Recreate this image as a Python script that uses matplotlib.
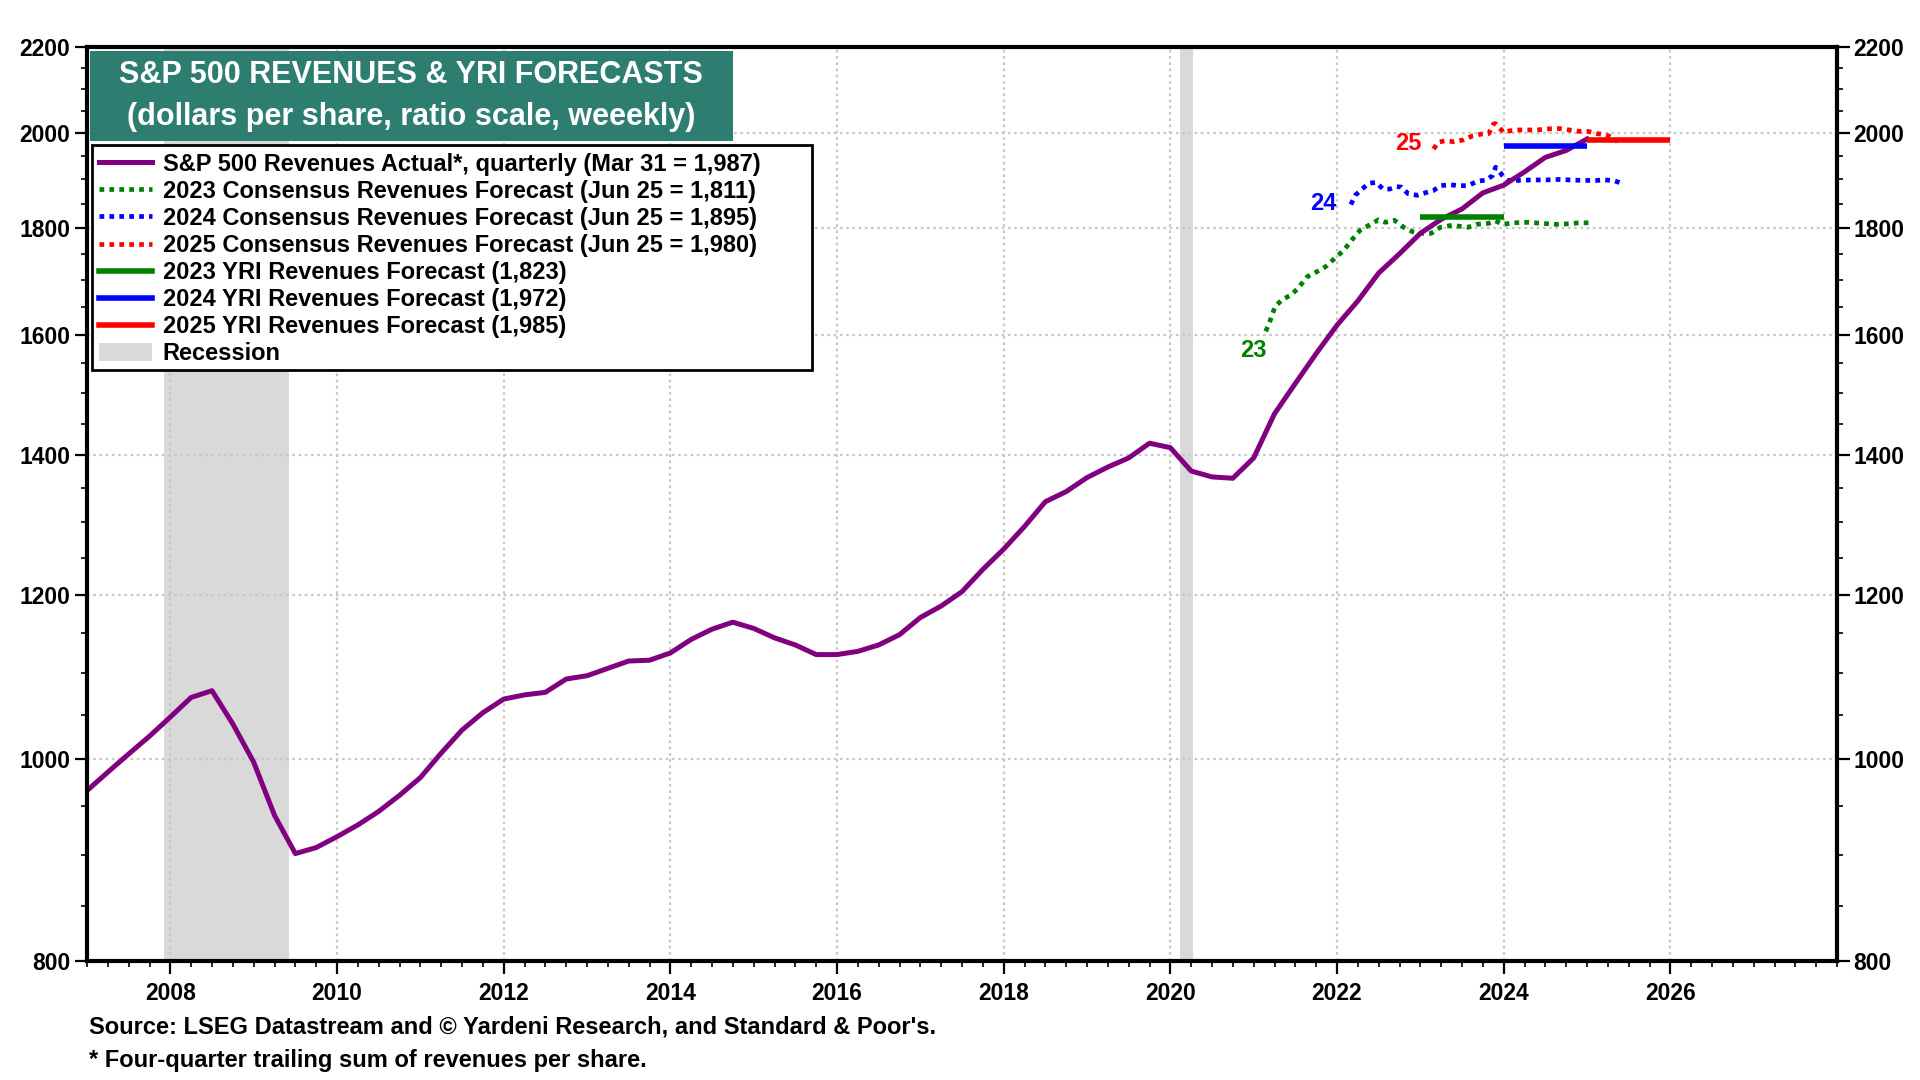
import numpy as np
import matplotlib
matplotlib.use("Agg")
import matplotlib.pyplot as plt
from matplotlib.patches import Rectangle, Patch
from matplotlib.lines import Line2D
from matplotlib.ticker import FixedLocator, MultipleLocator, NullFormatter

plt.rcParams['font.family'] = ['Liberation Sans', 'DejaVu Sans']
plt.rcParams['font.weight'] = 'bold'

# S&P 500 revenues per share, quarterly (four-quarter trailing sum)
actual_x = np.arange(2007.0, 2025.01, 0.25)
actual = [966, 986, 1006, 1026, 1048, 1071, 1079, 1040, 997, 940, 901, 907,
          918, 930, 944, 961, 980, 1007, 1033, 1053, 1069, 1074, 1077, 1093,
          1097, 1106, 1115, 1116, 1125, 1142, 1155, 1164, 1156, 1144, 1135, 1123,
          1123, 1127, 1135, 1148, 1170, 1185, 1204, 1234, 1262,
          1294, 1330, 1345, 1366, 1382, 1396, 1419, 1412, 1376, 1367, 1365, 1396,
          1466, 1516, 1567, 1617, 1661, 1713, 1750, 1790, 1818, 1839, 1872, 1888,
          1916, 1947, 1962, 1987]

# consensus forecasts (weekly)
c23_x = [2021.145, 2021.20, 2021.255, 2021.338, 2021.448, 2021.531, 2021.641,
         2021.752, 2021.862, 2021.972, 2022.083, 2022.193, 2022.276, 2022.414,
         2022.497, 2022.579, 2022.69, 2022.80, 2022.91, 2023.02, 2023.13,
         2023.24, 2023.38, 2023.57, 2023.68, 2023.82, 2023.90, 2023.99,
         2024.12, 2024.29, 2024.455, 2024.62, 2024.79, 2024.90, 2025.06]
c23 = [1606, 1626, 1650, 1663, 1672, 1684, 1706, 1715, 1725, 1741, 1757, 1780,
       1796, 1809, 1817, 1812, 1816, 1802, 1793, 1790, 1790, 1802, 1806, 1802,
       1808, 1810, 1815, 1808, 1811, 1812, 1810, 1808, 1809, 1811, 1811]

c24_x = [2022.166, 2022.22, 2022.30, 2022.386, 2022.469, 2022.552, 2022.634,
         2022.717, 2022.772, 2022.855, 2022.966, 2023.076, 2023.159, 2023.241,
         2023.352, 2023.462, 2023.572, 2023.683, 2023.793, 2023.865, 2023.903,
         2023.931, 2023.986, 2024.041, 2024.179, 2024.345, 2024.51, 2024.648,
         2024.786, 2024.952, 2025.117, 2025.2, 2025.31, 2025.42]
c24 = [1848, 1867, 1880, 1892, 1894, 1880, 1880, 1885, 1884, 1870, 1867, 1873,
       1877, 1887, 1889, 1887, 1887, 1896, 1899, 1908, 1926, 1922, 1908, 1898,
       1898, 1899, 1899, 1900, 1899, 1898, 1898, 1899, 1898, 1892]

c25_x = [2023.159, 2023.214, 2023.297, 2023.407, 2023.517, 2023.628, 2023.738,
         2023.821, 2023.876, 2023.903, 2023.948, 2024.003, 2024.069, 2024.179,
         2024.29, 2024.40, 2024.51, 2024.593, 2024.676, 2024.786, 2024.897,
         2025.007, 2025.117, 2025.228, 2025.31, 2025.366]
c25 = [1965, 1980, 1983, 1981, 1985, 1994, 1998, 1999, 2020, 2021, 2012, 2001,
       2005, 2007, 2007, 2007, 2009, 2010, 2010, 2007, 2004, 2004, 1999, 1996,
       1990, 1981]

# YRI forecasts: (start, end, value)
yri23 = (2023.0, 2024.0, 1823)
yri24 = (2024.0, 2025.0, 1972)
yri25 = (2025.0, 2026.0, 1985)

recessions = [(2007.92, 2009.42), (2020.12, 2020.27)]

PURPLE = '#800080'
GREEN = '#008000'
BLUE = '#0000ff'
RED = '#ff0000'
GREY = '#d9d9d9'
TEAL = '#2e7d71'

W, H = 1920, 1080
fig = plt.figure(figsize=(19.2, 10.8), dpi=100)
ax = fig.add_axes([87 / W, 1 - 961 / H, (1837 - 87) / W, (961 - 47) / H])

for a, b in recessions:
    ax.axvspan(a, b, color=GREY, lw=0, zorder=0)

dots = (0, (1.0, 1.1))
ax.plot(actual_x, actual, color=PURPLE, lw=3.6, zorder=5)
ax.plot(c23_x, c23, color=GREEN, lw=3.4, ls=dots, zorder=4)
ax.plot(c24_x, c24, color=BLUE, lw=3.4, ls=dots, zorder=4)
ax.plot(c25_x, c25, color=RED, lw=3.4, ls=dots, zorder=4)
for (a, b, v), c in zip([yri23, yri24, yri25], [GREEN, BLUE, RED]):
    ax.plot([a, b], [v, v], color=c, lw=4, solid_capstyle='butt', zorder=6)

ax.text(2021.0, 1573, '23', color=GREEN, fontsize=17, ha='center', va='center')
ax.text(2021.83, 1851, '24', color=BLUE, fontsize=17, ha='center', va='center')
ax.text(2022.85, 1978, '25', color=RED, fontsize=17, ha='center', va='center')

ax.set_yscale('log')
ax.set_ylim(800, 2200)
ax.set_xlim(2007, 2028)

yt = [800, 1000, 1200, 1400, 1600, 1800, 2000, 2200]
ax.yaxis.set_major_locator(FixedLocator(yt))
ax.yaxis.set_minor_locator(FixedLocator(list(range(800, 2201, 50))))
ax.set_yticklabels([str(v) for v in yt])
ax.yaxis.set_minor_formatter(NullFormatter())
ax.set_xticks(list(range(2008, 2027, 2)))
ax.xaxis.set_minor_locator(MultipleLocator(0.25))

ax.grid(True, which='major', color='#c8c8c8', lw=1.6, ls=(0, (1.2, 1.6)), zorder=1)
ax.tick_params(axis='both', which='major', labelsize=16.5, length=9, width=1.6, direction='out')
ax.tick_params(axis='both', which='minor', length=4.5, width=1.2, direction='out')
ax.tick_params(axis='y', which='both', left=True, right=True, labelleft=True, labelright=True, pad=3)
ax.tick_params(axis='x', pad=6)
for s in ax.spines.values():
    s.set_linewidth(3)
    s.set_zorder(10)

# title box
fig.patches.append(Rectangle((90 / W, 1 - 141 / H), 643 / W, 90 / H,
                             transform=fig.transFigure, facecolor=TEAL, edgecolor='none', zorder=3))
fig.text(411 / W, 1 - 75 / H, 'S&P 500 REVENUES & YRI FORECASTS', color='white',
         fontsize=22, ha='center', va='center', zorder=4)
fig.text(411 / W, 1 - 117 / H, '(dollars per share, ratio scale, weeekly)', color='white',
         fontsize=22, ha='center', va='center', zorder=4)

# legend box (wider than its entries, as in the original)
fig.patches.append(Rectangle((92 / W, 1 - 370 / H), 720 / W, 225 / H,
                             transform=fig.transFigure, facecolor='white', edgecolor='black',
                             lw=2, zorder=15))

handles = [
    Line2D([], [], color=PURPLE, lw=3.6),
    Line2D([], [], color=GREEN, lw=3.4, ls=dots),
    Line2D([], [], color=BLUE, lw=3.4, ls=dots),
    Line2D([], [], color=RED, lw=3.4, ls=dots),
    Line2D([], [], color=GREEN, lw=4),
    Line2D([], [], color=BLUE, lw=4),
    Line2D([], [], color=RED, lw=4),
    Patch(facecolor=GREY, edgecolor='none'),
]
labels = [
    'S&P 500 Revenues Actual*, quarterly (Mar 31 = 1,987)',
    '2023 Consensus Revenues Forecast (Jun 25 = 1,811)',
    '2024 Consensus Revenues Forecast (Jun 25 = 1,895)',
    '2025 Consensus Revenues Forecast (Jun 25 = 1,980)',
    '2023 YRI Revenues Forecast (1,823)',
    '2024 YRI Revenues Forecast (1,972)',
    '2025 YRI Revenues Forecast (1,985)',
    'Recession',
]
leg = fig.legend(handles, labels, loc='upper left', bbox_to_anchor=(92 / W, 1 - 146 / H),
                 bbox_transform=fig.transFigure, borderaxespad=0, fontsize=17,
                 frameon=False, handlelength=2.25, handleheight=0.8, handletextpad=0.45,
                 labelspacing=0.17, borderpad=0.3)
leg.set_zorder(20)

fig.text(89 / W, 1 - 1027 / H, "Source: LSEG Datastream and \u00a9 Yardeni Research, and Standard & Poor's.",
         fontsize=17, ha='left', va='center')
fig.text(89 / W, 1 - 1061 / H, '* Four-quarter trailing sum of revenues per share.',
         fontsize=17, ha='left', va='center')

fig.savefig('out.png', dpi=100)
